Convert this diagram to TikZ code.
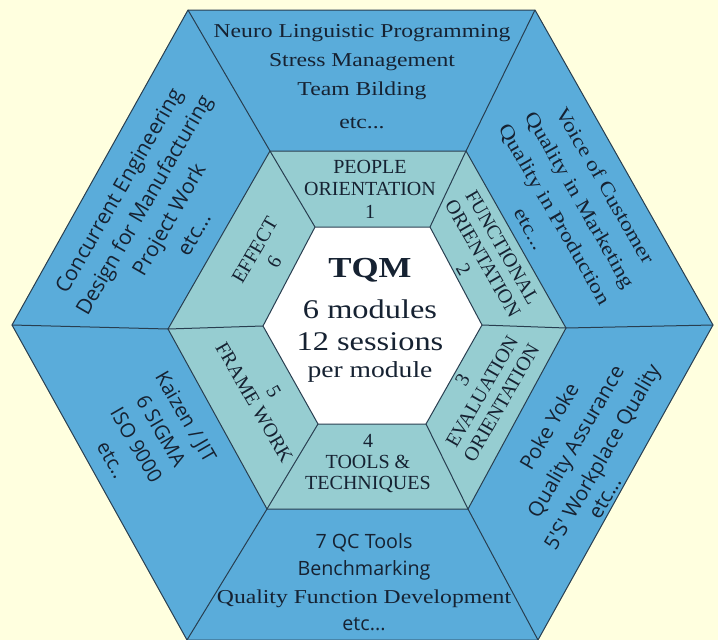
\documentclass[tikz,border=0pt]{standalone}
\usepackage{fontspec}
\setmainfont{Liberation Serif}
\newfontfamily\widefont[FakeStretch=1.2]{Liberation Serif}
\newfontfamily\plainsans{Open Sans}

\definecolor{cream}{RGB}{255,255,223}
\definecolor{outerblue}{RGB}{90,172,218}
\definecolor{ringteal}{RGB}{150,205,209}
\definecolor{edge}{RGB}{40,62,80}
\definecolor{ink}{RGB}{22,34,50}

\tikzset{
  outerring/.style={fill=outerblue, draw=edge, line width=1pt},
  midring/.style={fill=ringteal, draw=edge, line width=1pt},
  core/.style={fill=white, draw=edge, line width=1pt},
  divider/.style={draw=edge, line width=1pt},
  bigserif/.style={text=ink, align=center, inner sep=0pt, font=\widefont\fontsize{19.7}{29}\selectfont},
  bigsans/.style={text=ink, align=center, inner sep=0pt, font=\plainsans\fontsize{20.5}{29}\selectfont},
  ringtext/.style={text=ink, align=center, inner sep=0pt, font=\fontsize{20}{22.5}\selectfont}
}

\begin{document}
\begin{tikzpicture}[x=1pt, y=-1pt]
    \fill[cream] (0,0) rectangle (718,640);
    \useasboundingbox (0,0) rectangle (718,640);

    % hexagon corners
    \coordinate (oL) at (12,325);
    \coordinate (oTL) at (188,10);
    \coordinate (oTR) at (535,10);
    \coordinate (oR) at (713,325);
    \coordinate (oBR) at (538,640);
    \coordinate (oBL) at (187,640);

    \coordinate (mL) at (168,329);
    \coordinate (mTL) at (270,151);
    \coordinate (mTR) at (466,151);
    \coordinate (mR) at (566,328);
    \coordinate (mBR) at (468,509);
    \coordinate (mBL) at (267,509);

    \coordinate (iL) at (263,326);
    \coordinate (iTL) at (315,227);
    \coordinate (iTR) at (430,227);
    \coordinate (iR) at (482,325);
    \coordinate (iBR) at (426,424);
    \coordinate (iBL) at (318,424);

    \filldraw[outerring] (oL) -- (oTL) -- (oTR) -- (oR) -- (oBR) -- (oBL) -- cycle;
    \filldraw[midring] (mL) -- (mTL) -- (mTR) -- (mR) -- (mBR) -- (mBL) -- cycle;
    \filldraw[core] (iL) -- (iTL) -- (iTR) -- (iR) -- (iBR) -- (iBL) -- cycle;
    \foreach \c in {L,TL,TR,R,BR,BL} {
        \draw[divider] (o\c) -- (m\c);
        \draw[divider] (m\c) -- (i\c);
    }

    % outer ring
    \node[bigserif] (people) at (362,76.5) {Neuro Linguistic Programming\\ Stress Management\\ Team Bilding\\[4pt] etc...};
    \node[bigsans, rotate=60, font=\plainsans\fontsize{21}{29}\selectfont] (design) at (156,212) {Concurrent Engineering\\ Design for Manufacturing\\ Project Work\\ etc...};
    \node[bigserif, rotate=-60] (customer) at (568,207) {Voice of Customer\\ Quality in Marketing\\ Quality in Production\\ etc...};
    \node[bigsans, rotate=60, font=\plainsans\fontsize{20.5}{30.5}\selectfont] (assurance) at (585,447) {Poke Yoke\\ Quality Assurance\\ 5'S' Workplace Quality\\[-8pt] etc...\hspace*{68pt}};
    \node[bigsans, rotate=-60, font=\plainsans\fontsize{20}{28.5}\selectfont] (kaizen) at (149,438) {Kaizen / JIT\\ 6 SIGMA\\ ISO 9000\\ etc..};
    \node[bigserif, font=\widefont\fontsize{19.7}{27.5}\selectfont] (tools) at (364,582) {{\plainsans 7 QC Tools}\\ {\plainsans Benchmarking}\\ Quality Function Development\\ {\plainsans etc...}};

    % middle ring
    \node[ringtext] (ring1) at (370,189) {PEOPLE\\ ORIENTATION\\ 1};
    \node[ringtext, rotate=-60] (ring2) at (483,258.5) {FUNCTIONAL\\ ORIENTATION\\ 2};
    \node[ringtext, rotate=60] (ring3) at (482,391.5) {3\\ EVALUATION\\ ORIENTATION};
    \node[ringtext, font=\fontsize{20}{21}\selectfont] (ring4) at (368,464) {4\\ TOOLS \&\\ TECHNIQUES};
    \node[ringtext, rotate=-60] (ring5) at (264,397) {5\\ FRAME WORK};
    \node[ringtext, rotate=60] (ring6) at (264.5,256) {EFFECT\\ 6};

    \node[text=ink, align=center, inner sep=0pt, font=\widefont\fontsize{27}{32}\selectfont] (tqm) at (370,320) {{\bfseries\fontsize{29}{32}\selectfont TQM}\\[9pt] 6 modules\\ 12 sessions\\[-5pt] {\fontsize{23}{32}\selectfont per module}};
\end{tikzpicture}
\end{document}
